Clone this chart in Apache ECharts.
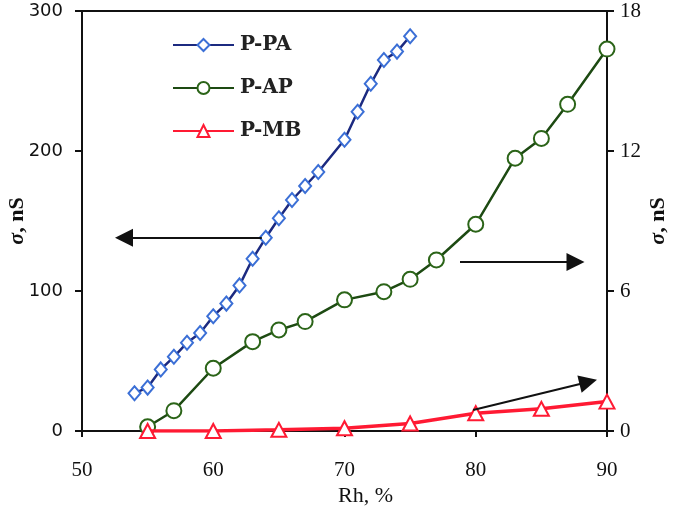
<!DOCTYPE html>
<html>
<head>
<meta charset="utf-8">
<script src="https://cdn.jsdelivr.net/npm/echarts@6/dist/echarts.min.js"></script>
<style>html,body{margin:0;padding:0;background:#fff}#c{width:675px;height:512px}</style>
</head>
<body>
<div id="c"></div>
<script>
// Data
const rhPA = [54,55,56,57,58,59,60,61,62,63,64,65,66,67,68,70,71,72,73,74,75];
const sigmaPA = [27,31,44,53,63,70,82,91,104,123,138,152,165,175,185,208,228,248,265,271,282];
const rhAP = [55,57,60,63,65,67,70,73,75,77,80,83,85,87,90];
const sigmaAP = [0.18,0.87,2.69,3.83,4.33,4.69,5.62,5.97,6.5,7.33,8.86,11.69,12.54,14.0,16.37];
const rhMB = [55,60,65,70,75,80,85,90];
const sigmaMB = [0.0,0.0,0.05,0.12,0.32,0.76,0.95,1.26];
const xTicks = {min:50, max:90, interval:10};
const leftTicks = {min:0, max:300, interval:100};
const rightTicks = {min:0, max:18, interval:6};
const seriesNames = ['P-PA','P-AP','P-MB'];
// annotation arrows (data space)
const arrowLeft = [[63.7,138],[53.2,138]];
const arrowRight = [[78.8,7.24],[87.6,7.24]];
const arrowDiag = [[79.8,0.9],[88.57,2.10]];

const zip = (a,b)=>a.map((v,i)=>[v,b[i]]);
const chart = echarts.init(document.getElementById('c'), null, {renderer:'canvas'});
const axisLineStyle = {color:'#111', width:2};
const arrowLine = {color:'#111', width:2, type:'solid'};
function arrow(pair){
  return [{coord:pair[0], symbol:'none'},{coord:pair[1], symbol:'triangle', symbolSize:[18,18]}];
}
chart.setOption({
  animation:false,
  backgroundColor:'#fff',
  grid:{left:82, right:68, top:11, bottom:81, containLabel:false, outerBoundsMode:'none',
        show:true, borderColor:'#111', borderWidth:2, backgroundColor:'transparent'},
  legend:{
    orient:'vertical', left:167, top:30, itemGap:23, itemWidth:61, itemHeight:15,
    data:seriesNames,
    textStyle:{fontFamily:'DejaVu Serif', fontWeight:'bold', fontSize:20, color:'#222', padding:[0,0,0,1]}
  },
  xAxis:{
    type:'value', min:xTicks.min, max:xTicks.max, interval:xTicks.interval,
    name:'Rh, %', nameLocation:'middle', nameGap:54, nameMoveOverlap:false,
    nameTextStyle:{fontFamily:'Liberation Serif', fontSize:22, color:'#111', padding:[0,0,0,42]},
    axisLine:{lineStyle:axisLineStyle}, axisTick:{length:6, lineStyle:{color:'#111', width:2}},
    axisLabel:{fontFamily:'Liberation Serif', fontSize:21, color:'#111', margin:29, showMinLabel:true, showMaxLabel:true},
    splitLine:{show:false}
  },
  yAxis:[{
    type:'value', position:'left', min:leftTicks.min, max:leftTicks.max, interval:leftTicks.interval,
    name:'{i|σ}, nS', nameLocation:'middle', nameGap:54, nameRotate:90, nameMoveOverlap:false,
    nameTextStyle:{fontFamily:'Liberation Serif', fontSize:22, fontWeight:'bold', color:'#111',
      rich:{i:{fontFamily:'Liberation Serif', fontStyle:'italic', fontSize:22, color:'#111'}}},
    axisLine:{show:true, lineStyle:axisLineStyle}, axisTick:{show:true, length:7, lineStyle:{color:'#111', width:2}},
    axisLabel:{fontFamily:'DejaVu Sans', fontSize:18, color:'#111', margin:19},
    splitLine:{show:false}
  },{
    type:'value', position:'right', min:rightTicks.min, max:rightTicks.max, interval:rightTicks.interval,
    name:'{i|σ}, nS', nameLocation:'middle', nameGap:40, nameRotate:90, nameMoveOverlap:false,
    nameTextStyle:{fontFamily:'Liberation Serif', fontSize:22, fontWeight:'bold', color:'#111',
      rich:{i:{fontFamily:'Liberation Serif', fontStyle:'italic', fontSize:22, color:'#111'}}},
    axisLine:{show:true, lineStyle:axisLineStyle}, axisTick:{show:true, length:7, lineStyle:{color:'#111', width:2}},
    axisLabel:{fontFamily:'Liberation Serif', fontSize:21, color:'#111', margin:13},
    splitLine:{show:false}
  }],
  series:[
    {
      name:seriesNames[0], type:'line', yAxisIndex:0, data:zip(rhPA,sigmaPA),
      symbol:'emptyDiamond', symbolSize:[12,14],
      lineStyle:{color:'#1c2a80', width:2.5}, itemStyle:{color:'#3b6fd6', borderWidth:2},
      markLine:{silent:true, animation:false, label:{show:false}, lineStyle:arrowLine, data:[arrow(arrowLeft)]},
      z:3
    },
    {
      name:seriesNames[1], type:'line', yAxisIndex:1, data:zip(rhAP,sigmaAP),
      symbol:'emptyCircle', symbolSize:15,
      lineStyle:{color:'#1d4a12', width:2.5}, itemStyle:{color:'#2b6418', borderWidth:2},
      markLine:{silent:true, animation:false, label:{show:false}, lineStyle:arrowLine, data:[arrow(arrowRight), arrow(arrowDiag)]},
      z:2
    },
    {
      name:seriesNames[2], type:'line', yAxisIndex:1, data:zip(rhMB,sigmaMB),
      symbol:'emptyTriangle', symbolSize:[15,14],
      lineStyle:{color:'#ff1a33', width:3.5}, itemStyle:{color:'#ff1a33', borderWidth:2.5},
      z:4
    }
  ]
});
</script>
</body>
</html>
